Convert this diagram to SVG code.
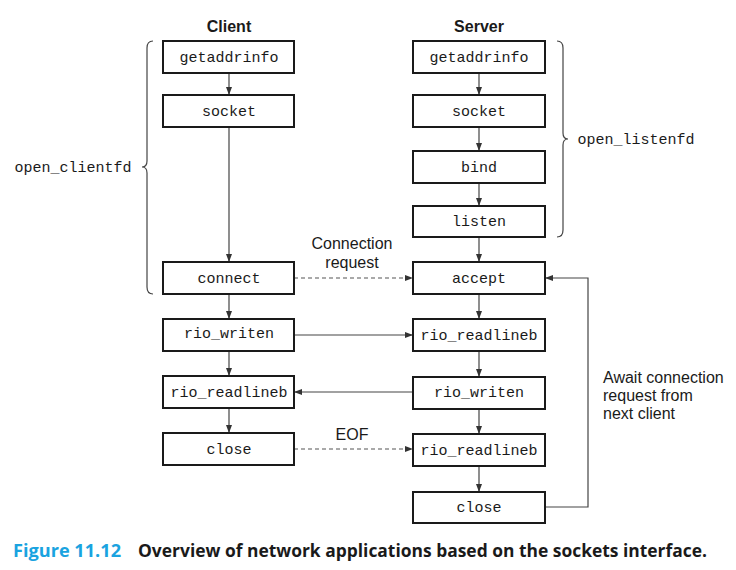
<svg xmlns="http://www.w3.org/2000/svg" width="736" height="570" viewBox="0 0 736 570">
  <style>
    .box { fill: #fff; stroke: #1a1a1a; stroke-width: 2; }
    .fn { font-family: "Liberation Mono", "DejaVu Sans Mono", monospace; font-size: 15px; fill: #1a1a1a; text-anchor: middle; }
    .lbl { font-family: "Liberation Sans", Arial, sans-serif; font-size: 16px; fill: #1a1a1a; }
    .hdr { font-family: "Liberation Sans", Arial, sans-serif; font-size: 16px; font-weight: bold; fill: #1a1a1a; text-anchor: middle; }
    .edge { fill: none; stroke: #444; stroke-width: 1.2; }
    .dash { fill: none; stroke: #555; stroke-width: 1.2; stroke-dasharray: 4 3; }
    .brace { fill: none; stroke: #444; stroke-width: 1.2; }
    .cap { font-family: "Open Sans", "Liberation Sans", sans-serif; font-size: 17px; font-weight: bold; }
  </style>
  <defs>
    <marker id="arr" viewBox="0 0 8 6" refX="8" refY="3" markerWidth="8" markerHeight="6" markerUnits="userSpaceOnUse" orient="auto">
      <path d="M0,0 L8,3 L0,6 Z" fill="#333"/>
    </marker>
  </defs>

  <!-- column headings -->
  <text class="hdr" x="229" y="32">Client</text>
  <text class="hdr" x="479" y="32">Server</text>

  <!-- connectors -->
  <g id="connectors">
    <!-- client chain -->
    <line class="edge" x1="229" y1="73" x2="229" y2="95" marker-end="url(#arr)"/>
    <line class="edge" x1="229" y1="127" x2="229" y2="262" marker-end="url(#arr)"/>
    <line class="edge" x1="229" y1="294" x2="229" y2="319" marker-end="url(#arr)"/>
    <line class="edge" x1="229" y1="351" x2="229" y2="376" marker-end="url(#arr)"/>
    <line class="edge" x1="229" y1="408" x2="229" y2="433" marker-end="url(#arr)"/>
    <!-- server chain -->
    <line class="edge" x1="479" y1="73" x2="479" y2="95" marker-end="url(#arr)"/>
    <line class="edge" x1="479" y1="127" x2="479" y2="151" marker-end="url(#arr)"/>
    <line class="edge" x1="479" y1="183" x2="479" y2="206" marker-end="url(#arr)"/>
    <line class="edge" x1="479" y1="237" x2="479" y2="262" marker-end="url(#arr)"/>
    <line class="edge" x1="479" y1="294" x2="479" y2="319" marker-end="url(#arr)"/>
    <line class="edge" x1="479" y1="351" x2="479" y2="377" marker-end="url(#arr)"/>
    <line class="edge" x1="479" y1="409" x2="479" y2="434" marker-end="url(#arr)"/>
    <line class="edge" x1="479" y1="466" x2="479" y2="492" marker-end="url(#arr)"/>
    <!-- cross traffic -->
    <line class="dash" x1="294" y1="278" x2="413" y2="278" marker-end="url(#arr)"/>
    <line class="edge" x1="294" y1="335" x2="413" y2="335" marker-end="url(#arr)"/>
    <line class="edge" x1="413" y1="392" x2="294" y2="392" marker-end="url(#arr)"/>
    <line class="dash" x1="294" y1="449" x2="413" y2="449" marker-end="url(#arr)"/>
    <!-- loop back to accept -->
    <polyline class="edge" points="545,507 588,507 588,278 545,278" marker-end="url(#arr)"/>
  </g>

  <!-- braces -->
  <path class="brace" d="M153,41 Q147,41 147,48 L147,161 Q147,167 142,167 Q147,167 147,173 L147,287 Q147,294 153,294"/>
  <path class="brace" d="M557,41 Q563,41 563,48 L563,133 Q563,139 568,139 Q563,139 563,145 L563,230 Q563,237 557,237"/>
  <text class="fn" x="73" y="172">open_clientfd</text>
  <text class="fn" x="636" y="144">open_listenfd</text>

  <!-- client nodes -->
  <g id="c_getaddrinfo"><rect class="box" x="163" y="41" width="131" height="32"/><text class="fn" x="229" y="61.5">getaddrinfo</text></g>
  <g id="c_socket"><rect class="box" x="163" y="95" width="131" height="32"/><text class="fn" x="229" y="115.5">socket</text></g>
  <g id="c_connect"><rect class="box" x="163" y="262" width="131" height="32"/><text class="fn" x="229" y="282.5">connect</text></g>
  <g id="c_rio_writen"><rect class="box" x="163" y="319" width="131" height="32"/><text class="fn" x="229" y="337.5">rio_writen</text></g>
  <g id="c_rio_readlineb"><rect class="box" x="163" y="376" width="131" height="32"/><text class="fn" x="229" y="396.5">rio_readlineb</text></g>
  <g id="c_close"><rect class="box" x="163" y="433" width="131" height="32"/><text class="fn" x="229" y="453.5">close</text></g>

  <!-- server nodes -->
  <g id="s_getaddrinfo"><rect class="box" x="413" y="41" width="132" height="32"/><text class="fn" x="479" y="61.5">getaddrinfo</text></g>
  <g id="s_socket"><rect class="box" x="413" y="95" width="132" height="32"/><text class="fn" x="479" y="115.5">socket</text></g>
  <g id="s_bind"><rect class="box" x="413" y="151" width="132" height="32"/><text class="fn" x="479" y="171.5">bind</text></g>
  <g id="s_listen"><rect class="box" x="413" y="206" width="132" height="31"/><text class="fn" x="479" y="225.5">listen</text></g>
  <g id="s_accept"><rect class="box" x="413" y="262" width="132" height="32"/><text class="fn" x="479" y="282.5">accept</text></g>
  <g id="s_rio_readlineb1"><rect class="box" x="413" y="319" width="132" height="32"/><text class="fn" x="479" y="339.5">rio_readlineb</text></g>
  <g id="s_rio_writen"><rect class="box" x="413" y="377" width="132" height="32"/><text class="fn" x="479" y="396.5">rio_writen</text></g>
  <g id="s_rio_readlineb2"><rect class="box" x="413" y="434" width="132" height="32"/><text class="fn" x="479" y="454.5">rio_readlineb</text></g>
  <g id="s_close"><rect class="box" x="413" y="492" width="132" height="31"/><text class="fn" x="479" y="511.5">close</text></g>

  <!-- edge labels -->
  <text class="lbl" x="352" y="249" text-anchor="middle">Connection</text>
  <text class="lbl" x="352" y="268" text-anchor="middle">request</text>
  <text class="lbl" x="352" y="440" text-anchor="middle">EOF</text>
  <text class="lbl" x="603" y="383">Await connection</text>
  <text class="lbl" x="603" y="401">request from</text>
  <text class="lbl" x="603" y="419">next client</text>

  <!-- caption -->
  <text class="cap" x="13" y="557" fill="#1aa3e0" textLength="108" lengthAdjust="spacingAndGlyphs">Figure 11.12</text>
  <text class="cap" x="138" y="557" fill="#1a1a1a" textLength="569" lengthAdjust="spacingAndGlyphs">Overview of network applications based on the sockets interface.</text>
</svg>
